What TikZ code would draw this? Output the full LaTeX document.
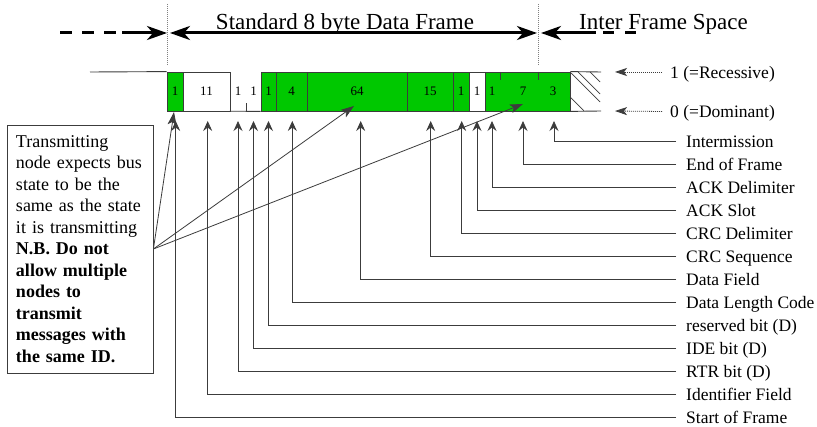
\documentclass[tikz,border=0pt]{standalone}
\usepackage{fontspec}
\setmainfont{Liberation Serif}
\usetikzlibrary{arrows.meta}
\definecolor{busgreen}{RGB}{0,200,0}
\definecolor{ln}{RGB}{60,60,60}
\tikzset{bighead/.tip={Stealth[length=20pt,width=14pt,inset=6pt]}}
\begin{document}
\begin{tikzpicture}[x=1pt,y=-1pt,
  field/.style={draw=ln, line width=0.8pt, minimum height=39pt, inner sep=0pt, font=\fontsize{13}{13}\selectfont},
  gfield/.style={field, fill=busgreen},
  bitlbl/.style={inner sep=0pt, minimum height=39pt, font=\fontsize{13}{13}\selectfont},
  lbl/.style={anchor=base west, inner sep=0pt, font=\fontsize{17.5}{20}\selectfont},
  conn/.style={draw=ln, line width=0.8pt, -{Stealth[length=10pt,width=9pt,inset=3.5pt]}},
  ptr/.style={draw=ln, line width=0.8pt, -{Stealth[length=13pt,width=9pt,inset=3pt]}},
  wave/.style={draw=ln, line width=0.9pt},
  big/.style={line width=3pt},
  vdot/.style={draw=gray, line width=0.8pt, dash pattern=on 1pt off 1pt},
  ttl/.style={anchor=base, inner sep=0pt, font=\fontsize{23}{23}\selectfont}]
\useasboundingbox (0,0) rectangle (817,427);
\fill[white] (0,0) rectangle (817,427);

% titles
\node[ttl] (tframe) at (345,29.5) {Standard 8 byte Data Frame};
\node[ttl, anchor=base west] (tifs) at (579,29.5) {Inter Frame Space};

% dotted separators
\draw[vdot] (167,4) -- (167,65);
\draw[vdot] (538,4) -- (538,65);

% top arrows
\coordinate (dstart) at (60,33);
\coordinate (dend) at (122,33);
\coordinate (fstart) at (167,33);
\coordinate (fstart2) at (170,33);
\coordinate (fend) at (537,33);
\coordinate (istart) at (541,33);
\coordinate (iend) at (596,33);
\coordinate (idstart) at (603,33);
\coordinate (idend) at (638,33);
\draw[big, dash pattern=on 12pt off 10pt] (dstart) -- (dend);
\draw[big, -{bighead}] (dend) -- (fstart);
\draw[big, {bighead}-{bighead}] (fstart2) -- (fend);
\draw[big, {bighead}-] (istart) -- (iend);
\draw[big, dash pattern=on 11pt off 11pt] (idstart) -- (idend);

% bus waveform
\node[gfield, minimum width=85pt] (tail) at (527.5,91.5) {};
\node[gfield, minimum width=16pt] (sof) at (175,91.5) {1};
\node[field, fill=white, minimum width=47pt] (ident) at (206.5,91.5) {11};
\node[bitlbl, minimum width=16pt] (rtr) at (238,91.5) {1};
\node[bitlbl, minimum width=15pt] (ide) at (253.5,91.5) {1};
\node[gfield, minimum width=15pt] (res) at (268.5,91.5) {1};
\node[gfield, minimum width=31pt] (dlc) at (291.5,91.5) {4};
\node[gfield, minimum width=100pt] (data) at (357,91.5) {64};
\node[gfield, minimum width=46pt] (crc) at (430,91.5) {15};
\node[gfield, minimum width=16pt] (crcd) at (461,91.5) {1};
\node[field, fill=white, minimum width=16pt] (ack) at (477,91.5) {1};
\node[bitlbl] (ackd) at (492,91.5) {1};
\node[bitlbl] (eof) at (523,91.5) {7};
\node[bitlbl] (ifs) at (553,91.5) {3};

\coordinate (idle) at (90,72);
\draw[wave] (idle) -- (sof.north west);
\draw[wave] (rtr.south west) -- (res.south west);
\draw[wave] (rtr.south east) -- ++(0,-8);
\draw[wave] (500,72) -- (500,80);
\draw[wave] (538,72) -- (538,80);
\coordinate (hend1) at (601,72);
\coordinate (hend2) at (601,111);
\draw[wave] (tail.north east) -- (hend1);
\draw[wave] (tail.south east) -- (hend2);
\draw[draw=ln, line width=0.7pt] (570,97) -- (584,111)
  (571,73) -- (600,102) (578,72) -- (600,94) (590,72) -- (600,82);

% level labels
\node[lbl] (rec) at (670,78.5) {1 (=Recessive)};
\node[lbl] (dom) at (670,117.5) {0 (=Dominant)};
\coordinate (rectip) at (615,72);
\coordinate (domtip) at (615,111);
\draw[draw=ln, line width=0.8pt, dash pattern=on 1pt off 1pt, -{Stealth[length=12pt,width=8pt,inset=3pt]}] ([shift={(-8pt,6.5pt)}]rec.base west) -- (rectip);
\draw[draw=ln, line width=0.8pt, dash pattern=on 1pt off 1pt, -{Stealth[length=12pt,width=8pt,inset=3pt]}] ([shift={(-8pt,6pt)}]dom.base west) -- (domtip);

% field labels
\coordinate (tipline) at (0,121);
\foreach \nm/\txt/\k in {lint/Intermission/0, leof/End of Frame/1, lackd/ACK Delimiter/2,
   lack/ACK Slot/3, lcrcd/CRC Delimiter/4, lcrc/CRC Sequence/5, ldata/Data Field/6,
   ldlc/Data Length Code/7, lres/reserved bit (D)/8, lide/IDE bit (D)/9,
   lrtr/RTR bit (D)/10, lid/Identifier Field/11, lsof/Start of Frame/12}{
  \node[lbl] (\nm) at (686,{141.3+23.0*\k+6}) {\txt};
}
\foreach \lb/\fd/\dx in {lint/ifs/1, leof/eof/0, lackd/ackd/0, lack/ack/0, lcrcd/crcd/0.7,
   lcrc/crc/0.7, ldata/data/3.7, ldlc/dlc/0.8, lres/res/0, lide/ide/0, lrtr/rtr/0,
   lid/ident/1.2, lsof/sof/0.7}{
  \draw[conn] ([shift={(-10pt,6pt)}]\lb.base west) -| ([xshift=\dx pt]\fd |- tipline);
}

% note box
\node[draw=ln, line width=0.8pt, fill=white, minimum height=248pt, text width=128pt,
  inner xsep=9pt, align=left, font=\fontsize{18}{21.5}\selectfont] (note) at (80,249)
  {Transmitting\\ node expects bus\\ state to be the\\ same as the state\\ it is transmitting\\
   \textbf{N.B. Do not}\\ \textbf{allow multiple}\\ \textbf{nodes to}\\ \textbf{transmit}\\
   \textbf{messages with}\\ \textbf{the same ID.}};
\coordinate (tsof) at (174,112);
\coordinate (tdata) at (354,106);
\coordinate (teof) at (523,104);
\draw[ptr] (note.east) -- (tsof);
\draw[ptr] (note.east) -- (tdata);
\draw[ptr] (note.east) -- (teof);
\end{tikzpicture}
\end{document}
